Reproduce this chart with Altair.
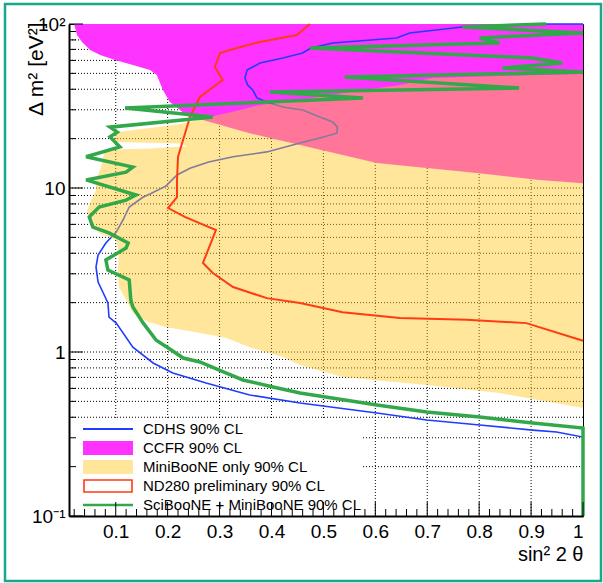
import altair as alt
import pandas as pd

# ---------------- data ----------------
# CCFR excluded region: lower boundary (sin^2 2theta, dm2); region extends up to 100 eV^2
ccfr_pts = [(0.0198, 100), (0.0256, 85.7), (0.035, 77.7), (0.0506, 69.4), (0.070, 64.7),
            (0.0987, 60.3), (0.133, 56.2), (0.166, 52.4), (0.179, 48.9), (0.191, 39.6),
            (0.204, 33.4), (0.224, 29.9), (0.237, 27.5), (0.268, 26.0), (0.358, 21.6),
            (0.455, 18.3), (0.603, 14.2), (0.80, 12.3), (0.916, 11.2), (1.0, 10.7)]
ccfr_top = 100

# CDHS 90% CL contour (sin^2 2theta, dm2)
cdhs_pts = [(1.0, 100), (0.929, 100), (0.768, 95.9), (0.666, 88.1), (0.641, 82.2),
            (0.518, 76.6), (0.476, 71.4), (0.460, 66.5), (0.422, 62.1), (0.378, 57.8),
            (0.353, 52.4), (0.349, 46.9), (0.354, 42.5), (0.364, 39.6), (0.372, 35.4),
            (0.391, 33.4), (0.422, 31.2), (0.460, 29.9), (0.493, 27.1), (0.518, 25.3),
            (0.527, 23.5), (0.526, 21.6), (0.493, 20.2), (0.455, 18.8), (0.391, 16.6),
            (0.326, 15.5), (0.279, 14.4), (0.243, 13.2), (0.218, 12.0), (0.197, 10.3),
            (0.166, 9.19), (0.153, 8.81), (0.126, 7.66), (0.114, 6.38), (0.101, 5.39),
            (0.081, 4.62), (0.066, 3.90), (0.062, 3.30), (0.066, 2.67), (0.076, 2.29),
            (0.085, 1.99), (0.087, 1.63), (0.101, 1.50), (0.133, 1.07), (0.172, 0.857),
            (0.210, 0.745), (0.274, 0.647), (0.358, 0.547), (0.455, 0.489), (0.603, 0.425),
            (0.699, 0.385), (0.801, 0.359), (0.903, 0.334), (0.949, 0.325), (1.0, 0.303),
            (1.0, 0.1)]

# MiniBooNE only allowed region: (dm2, left edge in sin^2 2theta); region extends to sin^2 2theta = 1
miniboone_pts = [(49.6, 1.0), (48.2, 0.839), (46.9, 0.710), (42.5, 0.647), (38.5, 0.551),
                 (34.4, 0.455), (32.1, 0.378), (29.9, 0.339), (27.1, 0.281), (25.6, 0.252),
                 (24.6, 0.224), (23.2, 0.166), (22.3, 0.118), (21.6, 0.097), (19.1, 0.097),
                 (18.7, 0.224), (18.0, 0.237), (17.4, 0.166), (17.1, 0.081), (16.3, 0.078),
                 (13.5, 0.072), (11.2, 0.062), (9.72, 0.062), (8.44, 0.053), (7.34, 0.045),
                 (6.38, 0.049), (5.32, 0.068), (4.82, 0.101), (4.01, 0.106), (3.03, 0.104),
                 (2.49, 0.106), (2.08, 0.120), (1.73, 0.133), (1.52, 0.164), (1.42, 0.197),
                 (1.31, 0.260), (1.22, 0.312), (1.07, 0.358), (0.932, 0.422), (0.833, 0.455),
                 (0.705, 0.537), (0.629, 0.699), (0.562, 0.839), (0.456, 1.0)]
miniboone_right = 1.0

# ND280 preliminary 90% CL (sin^2 2theta, dm2)
nd280_pts = [(0.474, 100), (0.449, 85.7), (0.378, 77.7), (0.333, 71.4), (0.301, 66.5),
             (0.291, 54.7), (0.306, 45.5), (0.262, 35.9), (0.243, 27.1), (0.220, 15.5),
             (0.218, 11.2), (0.218, 8.81), (0.201, 7.55), (0.233, 6.66), (0.293, 5.54),
             (0.268, 3.49), (0.287, 3.03), (0.326, 2.49), (0.391, 2.13), (0.455, 1.99),
             (0.537, 1.75), (0.647, 1.61), (0.776, 1.57), (0.891, 1.50), (1.0, 1.17)]

# SciBooNE + MiniBooNE 90% CL (sin^2 2theta, dm2)
sciboone_pts = [(0.929, 100), (0.768, 95.9), (1.0, 88.1), (0.801, 82.2), (0.839, 76.6),
                (0.474, 71.4), (0.903, 62.1), (0.960, 57.8), (0.845, 53.9), (1.0, 50.9),
                (0.541, 47.5), (0.877, 40.7), (0.397, 38.5), (0.576, 35.4), (0.118, 30.7),
                (0.287, 27.1), (0.089, 23.5), (0.103, 21.9), (0.089, 20.5), (0.108, 17.8),
                (0.043, 15.5), (0.133, 13.4), (0.120, 12.5), (0.043, 11.2), (0.139, 9.06),
                (0.120, 8.44), (0.068, 7.66), (0.049, 6.66), (0.056, 5.78), (0.087, 5.32),
                (0.124, 4.62), (0.120, 4.31), (0.081, 3.64), (0.085, 3.16), (0.126, 2.75),
                (0.129, 2.08), (0.133, 1.88), (0.153, 1.50), (0.178, 1.18), (0.199, 1.07),
                (0.230, 0.919), (0.262, 0.869), (0.312, 0.745), (0.345, 0.675), (0.403, 0.612),
                (0.455, 0.562), (0.603, 0.475), (0.699, 0.431), (0.801, 0.402), (0.903, 0.369),
                (1.0, 0.344), (1.0, 0.1)]

x_major = [0.1, 0.2, 0.3, 0.4, 0.5, 0.6, 0.7, 0.8, 0.9, 1.0]
x_minor = [0.02, 0.04, 0.06, 0.08, 0.12, 0.14, 0.16, 0.18, 0.22, 0.24, 0.26, 0.28,
           0.32, 0.34, 0.36, 0.38, 0.42, 0.44, 0.46, 0.48, 0.52, 0.54, 0.56, 0.58,
           0.62, 0.64, 0.66, 0.68, 0.72, 0.74, 0.76, 0.78, 0.82, 0.84, 0.86, 0.88,
           0.92, 0.94, 0.96, 0.98]
x_grid = [0.1, 0.2, 0.3, 0.4, 0.5, 0.6, 0.7, 0.8, 0.9]
y_major = [0.1, 1, 10, 100]
y_minor = [0.2, 0.3, 0.4, 0.5, 0.6, 0.7, 0.8, 0.9, 2, 3, 4, 5, 6, 7, 8, 9,
           20, 30, 40, 50, 60, 70, 80, 90]
y_grid = y_minor + [1, 10]

legend_labels = ["CDHS 90% CL", "CCFR 90% CL", "MiniBooNE only 90% CL",
                 "ND280  preliminary 90% CL", "SciBooNE + MiniBooNE 90% CL"]

# ---------------- styling ----------------
W, H = 514, 492
FONT = "Liberation Sans"
C_BLUE = "#1f3cff"
C_MAG = "#ff33ff"
C_YEL = "#ffc820"
YEL_OP = 0.45
C_RED = "#ff3b14"
C_GREEN = "#33a84b"
C_FRAME = "#17a98c"

xs = alt.Scale(domain=[0.01, 1.0], nice=False, zero=False)
ys = alt.Scale(type="log", domain=[0.1, 100], nice=False)

x_axis = alt.Axis(values=x_major, format="~g", grid=False, ticks=False,
                  domainColor="black", domainWidth=2, zindex=1,
                  labelFont=FONT, labelFontSize=19, labelColor="black", labelPadding=6,
                  title="sin² 2 θ", titleFont=FONT, titleFontSize=20,
                  titleFontWeight="normal", titleColor="black",
                  titleX=W, titleY=44, titleAlign="right", titleBaseline="alphabetic")
y_axis = alt.Axis(values=y_major, grid=False, ticks=False,
                  labelExpr="datum.value == 100 ? '10²' : datum.value == 0.1 ? '10⁻¹' : datum.value == 10 ? '10' : '1'",
                  domainColor="black", domainWidth=2, zindex=1,
                  labelFont=FONT, labelFontSize=19, labelColor="black", labelPadding=4,
                  title="Δ m² [eV²]", titleFont=FONT, titleFontSize=21,
                  titleFontWeight="normal", titleColor="black",
                  titleAngle=270, titleX=-27, titleY=-2, titleAlign="right",
                  titleBaseline="alphabetic")


def X(field="x"):
    return alt.X(f"{field}:Q", scale=xs, axis=x_axis)


def Y(field="y"):
    return alt.Y(f"{field}:Q", scale=ys, axis=y_axis)


def pts_df(pts):
    return pd.DataFrame({"x": [p[0] for p in pts], "y": [p[1] for p in pts],
                         "i": list(range(len(pts)))})


one = pd.DataFrame({"k": [0]})

layers = []

# grid
layers.append(alt.Chart(pd.DataFrame({"x": x_grid})).mark_rule(
    color="black", strokeWidth=1, strokeDash=[1, 2]).encode(x=X()))
layers.append(alt.Chart(pd.DataFrame({"y": y_grid})).mark_rule(
    color="black", strokeWidth=1, strokeDash=[1, 2]).encode(y=Y()))

# CCFR
ccfr_df = pts_df(ccfr_pts)
ccfr_df["top"] = ccfr_top
layers.append(alt.Chart(ccfr_df).mark_area(color=C_MAG, opacity=1, line=False).encode(
    x=X(), y=Y(), y2=alt.Y2("top:Q")))

# CDHS
layers.append(alt.Chart(pts_df(cdhs_pts)).mark_line(color=C_BLUE, strokeWidth=1.6).encode(
    x=X(), y=Y(), order="i:Q"))

# MiniBooNE
mb = pd.DataFrame({"y": [p[0] for p in miniboone_pts], "x": [p[1] for p in miniboone_pts]})
mb["right"] = miniboone_right
layers.append(alt.Chart(mb).mark_area(color=C_YEL, opacity=YEL_OP, orient="horizontal").encode(
    y=Y(), x=X(), x2=alt.X2("right:Q")))

# ND280
layers.append(alt.Chart(pts_df(nd280_pts)).mark_line(color=C_RED, strokeWidth=2).encode(
    x=X(), y=Y(), order="i:Q"))

# SciBooNE + MiniBooNE
layers.append(alt.Chart(pts_df(sciboone_pts)).mark_line(color=C_GREEN, strokeWidth=3.5,
                                                       strokeJoin="miter").encode(
    x=X(), y=Y(), order="i:Q"))

# legend box
layers.append(alt.Chart(one).mark_rect(fill="white").encode(
    x=alt.value(0), x2=alt.value(294), y=alt.value(396), y2=alt.value(491)))

row_y = [405 + 19 * k for k in range(5)]
sx0, sx1 = 14, 64
layers.append(alt.Chart(one).mark_rule(color=C_BLUE, strokeWidth=2).encode(
    x=alt.value(sx0), x2=alt.value(sx1), y=alt.value(row_y[0])))
layers.append(alt.Chart(one).mark_rect(fill=C_MAG).encode(
    x=alt.value(sx0), x2=alt.value(sx1), y=alt.value(row_y[1] - 7), y2=alt.value(row_y[1] + 7)))
layers.append(alt.Chart(one).mark_rect(fill=C_YEL, opacity=YEL_OP).encode(
    x=alt.value(sx0), x2=alt.value(sx1), y=alt.value(row_y[2] - 7), y2=alt.value(row_y[2] + 7)))
layers.append(alt.Chart(one).mark_rect(fill="white", stroke=C_RED, strokeWidth=1.6).encode(
    x=alt.value(sx0 + 1), x2=alt.value(sx1 - 1), y=alt.value(row_y[3] - 6), y2=alt.value(row_y[3] + 6)))
layers.append(alt.Chart(one).mark_rule(color=C_GREEN, strokeWidth=2.5).encode(
    x=alt.value(sx0), x2=alt.value(sx1), y=alt.value(row_y[4])))
for k, lab in enumerate(legend_labels):
    layers.append(alt.Chart(one).mark_text(
        text=lab, font=FONT, fontSize=15, color="black", align="left", baseline="middle").encode(
        x=alt.value(74), y=alt.value(row_y[k])))

# inward ticks
layers.append(alt.Chart(pd.DataFrame({"x": x_major})).mark_rule(color="black", strokeWidth=1).encode(
    x=X(), y=alt.value(H), y2=alt.value(H - 14)))
layers.append(alt.Chart(pd.DataFrame({"x": x_minor})).mark_rule(color="black", strokeWidth=1).encode(
    x=X(), y=alt.value(H), y2=alt.value(H - 7)))
layers.append(alt.Chart(pd.DataFrame({"y": y_major})).mark_rule(color="black", strokeWidth=1).encode(
    y=Y(), x=alt.value(0), x2=alt.value(14)))
layers.append(alt.Chart(pd.DataFrame({"y": y_minor})).mark_rule(color="black", strokeWidth=1).encode(
    y=Y(), x=alt.value(0), x2=alt.value(7)))

# outer frame
layers.append(alt.Chart(one).mark_rect(filled=False, stroke=C_FRAME, strokeWidth=2.5).encode(
    x=alt.value(-64), x2=alt.value(532), y=alt.value(-20), y2=alt.value(557)))

chart = alt.layer(*layers).properties(
    width=W, height=H,
    padding={"left": 69, "top": 24, "right": 20, "bottom": 67},
    autosize=alt.AutoSizeParams(type="none"),
    background="white",
).configure_view(stroke="black", strokeWidth=1)

chart.save("out.html", embed_options={"renderer": "svg", "actions": False})
